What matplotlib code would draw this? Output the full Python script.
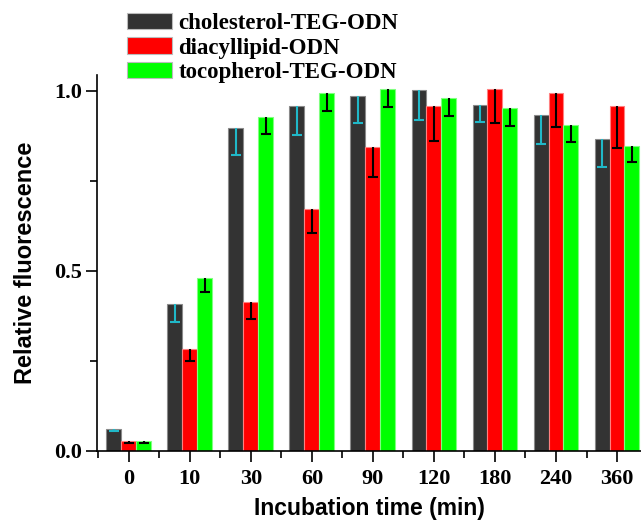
import matplotlib
matplotlib.use("Agg")
import matplotlib.pyplot as plt
import numpy as np

categories = ["0", "10", "30", "60", "90", "120", "180", "240", "360"]
series_names = ["cholesterol-TEG-ODN", "diacyllipid-ODN", "tocopherol-TEG-ODN"]

cholesterol = [0.062, 0.407, 0.897, 0.957, 0.986, 1.001, 0.962, 0.933, 0.865]
cholesterol_err = [0.006, 0.048, 0.076, 0.079, 0.076, 0.081, 0.048, 0.080, 0.076]
diacyllipid = [0.028, 0.283, 0.415, 0.673, 0.844, 0.958, 1.005, 0.994, 0.958]
diacyllipid_err = [0.006, 0.033, 0.049, 0.068, 0.083, 0.097, 0.094, 0.095, 0.117]
tocopherol = [0.028, 0.481, 0.926, 0.993, 1.004, 0.979, 0.951, 0.905, 0.848]
tocopherol_err = [0.006, 0.040, 0.045, 0.048, 0.048, 0.049, 0.048, 0.048, 0.046]

values = [cholesterol, diacyllipid, tocopherol]
errors = [cholesterol_err, diacyllipid_err, tocopherol_err]
colors = ["#333333", "#ff0000", "#00ff00"]
edgecolors = ["#8a8a8a", "#ff8080", "#80ff80"]
err_colors = ["#20b8c8", "#000000", "#000000"]

fig = plt.figure(figsize=(6.41, 5.23), dpi=100)
W, H = 641, 523
ax = fig.add_axes([97 / W, 72 / H, (W - 97) / W, (451 - 75) / H])

x = np.arange(len(categories))
bw = 0.245
offsets = [-bw, 0, bw]
handles = []
for vals, errs, c, ec, erc, off, name in zip(values, errors, colors, edgecolors,
                                             err_colors, offsets, series_names):
    b = ax.bar(x + off, vals, width=bw, color=c, edgecolor=ec, linewidth=0.8,
               label=name, zorder=2)
    handles.append(b)
    eb = ax.errorbar(x + off, vals, yerr=[errs, [0] * len(errs)], fmt="none",
                     ecolor=erc, elinewidth=1.5, capsize=3.5, capthick=1.5, zorder=3)
    caps = eb[1]
    if len(caps) > 1:
        caps[1].set_visible(False)

ax.set_xlim(-0.521, 8.393)
ax.set_ylim(0, 1.044)
ax.set_xticks(x)
ax.set_xticklabels(categories)
ax.set_xticks(np.arange(-0.5, 8.5, 1.0), minor=True)
ax.set_yticks([0.0, 0.5, 1.0])
ax.set_yticklabels(["0.0", "0.5", "1.0"])
ax.set_yticks([0.25, 0.75], minor=True)

for s in ["top", "right"]:
    ax.spines[s].set_visible(False)
for s in ["left", "bottom"]:
    ax.spines[s].set_linewidth(1.2)

for lab in ax.get_xticklabels() + ax.get_yticklabels():
    lab.set_fontfamily("Liberation Serif")
    lab.set_fontweight("bold")
    lab.set_fontsize(16)
ax.tick_params(axis="both", which="major", direction="out", length=8, width=1.2)
ax.tick_params(axis="both", which="minor", direction="out", length=5, width=1.2)
ax.tick_params(axis="x", which="major", pad=5)
ax.tick_params(axis="y", which="major", pad=3)

ax.set_xlabel("Incubation time (min)", fontfamily="Liberation Sans",
              fontweight="bold", fontsize=16.5, labelpad=6)
ax.set_ylabel("Relative fluorescence", fontfamily="Liberation Sans",
              fontweight="bold", fontsize=17, labelpad=12)

leg = fig.legend(handles=handles, labels=series_names, loc="upper left",
                 bbox_to_anchor=(127 / W, 1 - 13 / H), frameon=False,
                 prop={"family": "Liberation Serif", "weight": "bold", "size": 16.5},
                 handlelength=1.95, handleheight=0.7, handletextpad=0.3,
                 labelspacing=0.15, borderpad=0, borderaxespad=0)
for h in leg.legend_handles:
    h.set_edgecolor("#bbbbbb")

fig.savefig("out.png", dpi=100)
